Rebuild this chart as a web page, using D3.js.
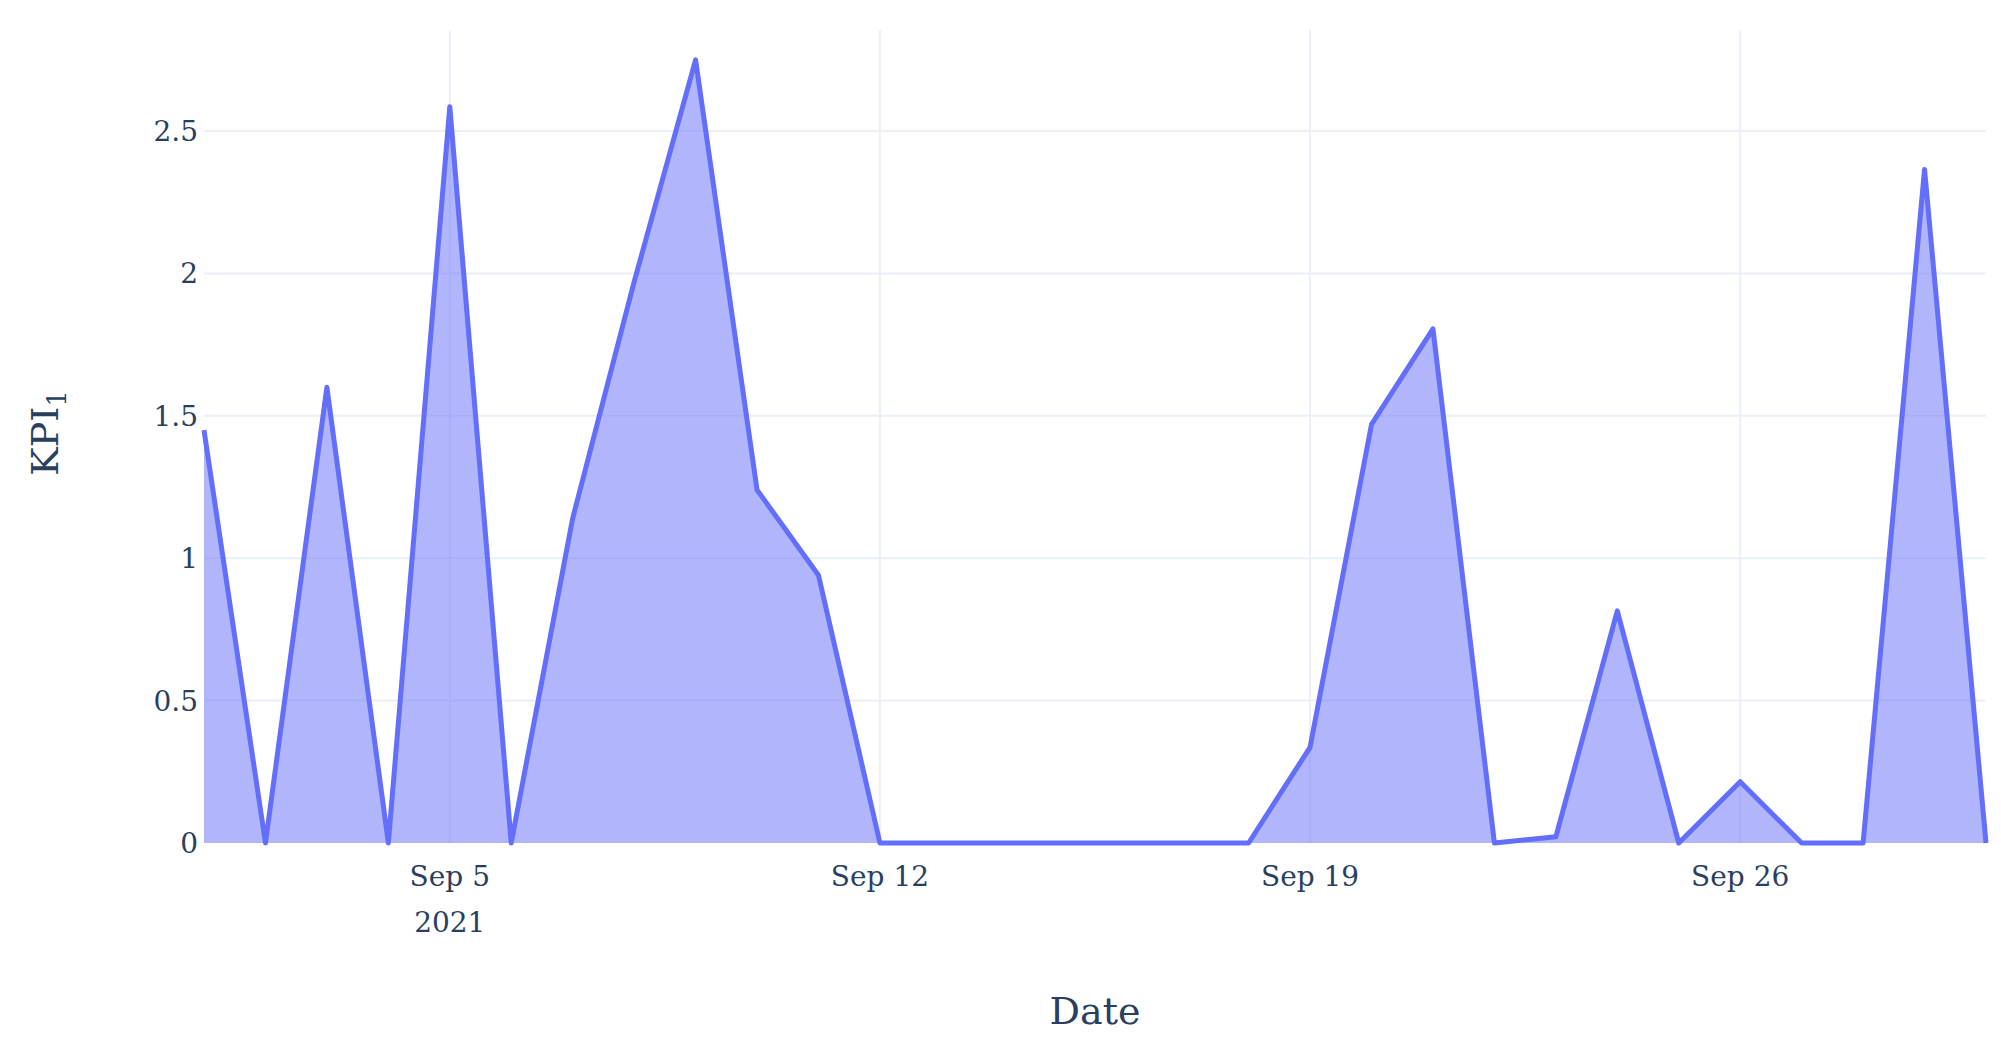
<!DOCTYPE html>
<html><head><meta charset="utf-8">
<script src="https://cdn.jsdelivr.net/npm/d3@7"></script>
<style>body{margin:0;background:#fff}</style></head>
<body><svg id="c" width="2001" height="1048"></svg>
<script>
const dates = d3.range(1,31).map(d=>new Date(2021,8,d));
const values = [1.45,0,1.60,0,2.585,0,1.14,1.97,2.75,1.24,0.94,0,0,0,0,0,0,0,0.336,1.47,1.805,0,0.022,0.815,0,0.215,0,0,2.365,0];
const yTicks = [0,0.5,1,1.5,2,2.5];
const xTicks = [new Date(2021,8,5),new Date(2021,8,12),new Date(2021,8,19),new Date(2021,8,26)];
const xTickLabels = ["Sep 5","Sep 12","Sep 19","Sep 26"];
const font = "'DejaVu Serif', serif";
const svg = d3.select("#c");
const L=204,R=1986,T=30,B=843;
const x = d3.scaleTime().domain([dates[0],dates[dates.length-1]]).range([L,R]);
const y = d3.scaleLinear().domain([0,2.5]).range([B,131]);
const g = svg.append("g");
g.selectAll(".gy").data(yTicks.slice(1)).join("line").attr("x1",L).attr("x2",R)
 .attr("y1",d=>y(d)).attr("y2",d=>y(d)).attr("stroke","#ebf0f8").attr("stroke-width",2);
g.selectAll(".gx").data(xTicks).join("line").attr("y1",T).attr("y2",B)
 .attr("x1",d=>x(d)).attr("x2",d=>x(d)).attr("stroke","#ebf0f8").attr("stroke-width",2);
const pts = dates.map((d,i)=>[d,values[i]]);
g.append("path").datum(pts).attr("d",d3.area().x(d=>x(d[0])).y0(y(0)).y1(d=>y(d[1])))
 .attr("fill","rgba(99,110,250,0.5)");
g.append("path").datum(pts).attr("d",d3.line().x(d=>x(d[0])).y(d=>y(d[1])))
 .attr("fill","none").attr("stroke","#636efa").attr("stroke-width",5).attr("stroke-linejoin","round");
g.selectAll(".yl").data(yTicks).join("text").attr("x",L-6).attr("y",d=>y(d)+10)
 .attr("text-anchor","end").attr("font-family",font).attr("font-size",28).attr("fill","#2a3f5f").text(d=>d);
g.selectAll(".xl").data(xTicks).join("text").attr("x",d=>x(d)).attr("y",886)
 .attr("text-anchor","middle").attr("font-family",font).attr("font-size",28).attr("fill","#2a3f5f").text((d,i)=>xTickLabels[i]);
g.append("text").attr("x",x(xTicks[0])).attr("y",932).attr("text-anchor","middle")
 .attr("font-family",font).attr("font-size",28).attr("fill","#2a3f5f").text("2021");
g.append("text").attr("x",(L+R)/2).attr("y",1024).attr("text-anchor","middle")
 .attr("font-family",font).attr("font-size",38).attr("fill","#2a3f5f").text("Date");
const yt = g.append("text").attr("transform","translate(58,433) rotate(-90)").attr("text-anchor","middle")
 .attr("font-family",font).attr("font-size",38).attr("fill","#2a3f5f");
yt.append("tspan").text("KPI");
yt.append("tspan").attr("font-size",26).attr("dy",8).text("1");
</script></body></html>
